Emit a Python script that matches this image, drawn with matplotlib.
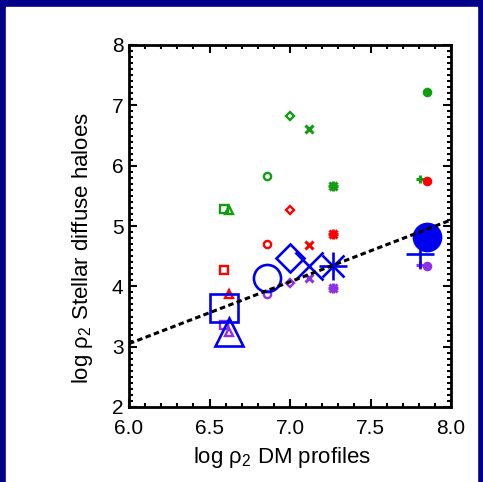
import numpy as np
import matplotlib
matplotlib.use("Agg")
import matplotlib.pyplot as plt
from matplotlib.ticker import MultipleLocator, FormatStrFormatter

plt.rcParams['font.family'] = ['Liberation Sans', 'DejaVu Sans']
plt.rcParams['mathtext.fontset'] = 'custom'
plt.rcParams['mathtext.rm'] = 'Liberation Sans'

# x positions of the simulated haloes (log rho2 DM)
x_sq, x_tri, x_circ, x_dia, x_x, x_ast, x_plus, x_dot = 6.59, 6.62, 6.855, 7.0, 7.12, 7.27, 7.81, 7.85

# log rho2 of the stellar diffuse haloes, one list per sample (sq, tri, circ, dia, x, ast, plus, dot)
green_y = [5.29, 5.27, 5.83, 6.83, 6.60, 5.67, 5.78, 7.22]
red_y = [4.27, 3.88, 4.70, 5.27, 4.69, 4.86, None, 5.74]
purple_y = [3.36, 3.25, 3.88, 4.05, 4.13, 3.98, 4.35, 4.33]
blue_y = [3.64, 3.25, 4.14, 4.47, 4.33, 4.34, 4.53, 4.81]

# dashed fit line: y = a + b*(x - 6)
fit_a, fit_b = 3.05, 1.025

xs = [x_sq, x_tri, x_circ, x_dia, x_x, x_ast, x_plus, x_dot]
markers = ['s', '^', 'o', 'D', 'x', '*', '+', 'o']
filled = [False, False, False, False, None, None, None, True]

fig = plt.figure(figsize=(4.83, 4.82), dpi=100)
fig.patch.set_facecolor('#00008b')
# white panel inside the navy frame
fig.patches.append(plt.Rectangle((6 / 483, 0), 471 / 483, 475 / 482,
                                 transform=fig.transFigure, color='white', zorder=-1))

ax = fig.add_axes([129 / 483, 1 - 407 / 482, 322 / 483, 362 / 482])
ax.set_facecolor('white')


def draw(ys, color, size, lw, lw_cross):
    for x, y, m, f in zip(xs, ys, markers, filled):
        if y is None:
            continue
        s = size
        if m == 'D':
            s = size * 0.75
        if m == '*':
            # IDL asterisk = plus + cross
            s = max(s * 1.05, 7)
            ax.plot(x, y, marker='+', ms=s, mec=color, mew=lw_cross, ls='none')
            ax.plot(x, y, marker='x', ms=s * 0.78, mec=color, mew=lw_cross, ls='none')
        elif m in ('x', '+'):
            ax.plot(x, y, marker=m, ms=s, mec=color, mew=lw_cross, ls='none')
        elif f:
            ax.plot(x, y, marker=m, ms=s, mfc=color, mec=color, mew=lw, ls='none')
        else:
            ax.plot(x, y, marker=m, ms=s, mfc='none', mec=color, mew=lw, ls='none')


draw(green_y, '#109e10', 5.2, 1.7, 2.2)
draw(red_y, '#ff0000', 5.2, 1.7, 2.2)
draw(purple_y, '#9030e6', 5.2, 1.7, 2.2)
draw(blue_y, '#0000f0', 19.5, 1.9, 1.9)

fx = np.array([6.0, 8.0])
ax.plot(fx, fit_a + fit_b * (fx - 6), ls=(0, (1.8, 1.1)), color='black', lw=2.2)

ax.set_xlim(6, 8)
ax.set_ylim(2, 8)
ax.xaxis.set_major_locator(MultipleLocator(0.5))
ax.xaxis.set_minor_locator(MultipleLocator(0.1))
ax.yaxis.set_major_locator(MultipleLocator(1))
ax.yaxis.set_minor_locator(MultipleLocator(0.1))
ax.xaxis.set_major_formatter(FormatStrFormatter('%.1f'))
ax.tick_params(which='both', direction='in', top=True, right=True, width=1.5, labelsize=15)
ax.tick_params(which='major', length=6)
ax.tick_params(which='minor', length=3)
ax.tick_params(axis='x', pad=9)
ax.tick_params(axis='y', pad=4)
for sp in ax.spines.values():
    sp.set_linewidth(2)

ax.set_xlabel(r'log ρ$_2$ DM profiles', fontsize=16)
ax.set_ylabel(r'log ρ$_2$ Stellar diffuse haloes', fontsize=16)
ax.xaxis.set_label_coords(0.474, -0.105)
ax.yaxis.set_label_coords(-0.106, 0.44)

fig.savefig('out.png', dpi=100, facecolor=fig.get_facecolor())
